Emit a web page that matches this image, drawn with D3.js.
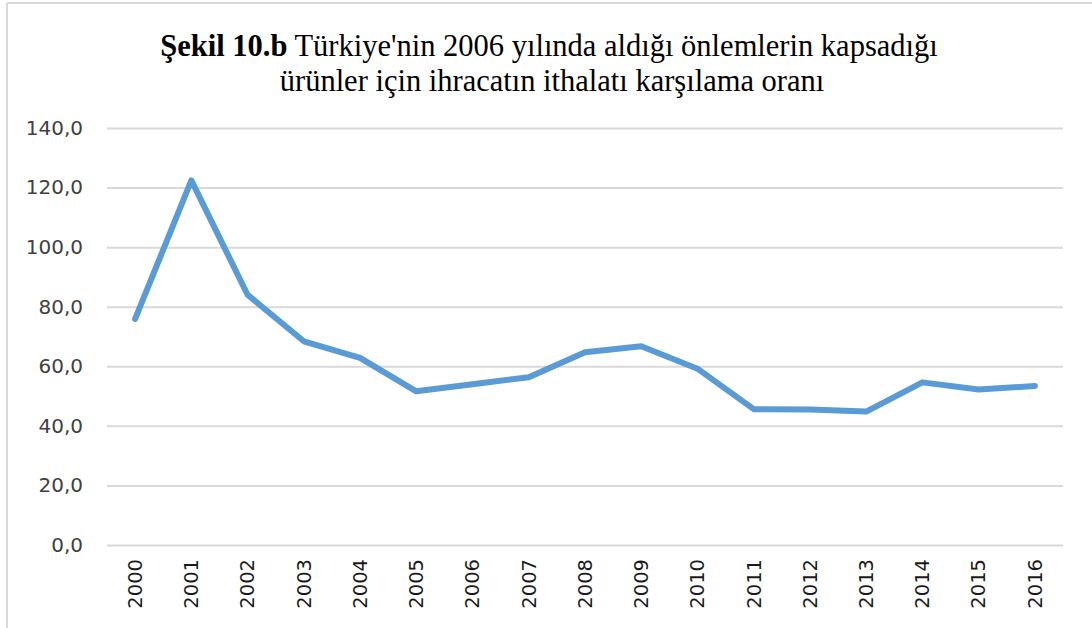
<!DOCTYPE html>
<html><head><meta charset="utf-8">
<script src="https://cdn.jsdelivr.net/npm/d3@7"></script>
<style>html,body{margin:0;padding:0;background:#fff;}svg{display:block;}</style>
</head><body>
<svg id="c" width="1092" height="628"></svg>
<script>
const years = ["2000","2001","2002","2003","2004","2005","2006","2007","2008","2009","2010","2011","2012","2013","2014","2015","2016"];
const ratio = [75.9,122.4,84.0,68.4,62.8,51.6,54.0,56.3,64.7,66.7,59.2,45.6,45.5,44.8,54.6,52.2,53.4];
const yTicks = [0,20,40,60,80,100,120,140];
const titleBold = "Şekil 10.b";
const titleRest = " Türkiye'nin 2006 yılında aldığı önlemlerin kapsadığı";
const titleLine2 = "ürünler için ihracatın ithalatı karşılama oranı";

const svg = d3.select("#c");
const W = 1092, H = 628;
const m = {left:107, right:1063, top:128, bottom:545};

// frame
svg.append("line").attr("x1",7).attr("x2",W).attr("y1",3).attr("y2",3).attr("stroke","#d9d9d9").attr("stroke-width",2);
svg.append("line").attr("x1",7).attr("x2",7).attr("y1",3).attr("y2",H).attr("stroke","#d9d9d9").attr("stroke-width",2);

const x = d3.scaleBand().domain(years).range([m.left, m.right]);
const y = d3.scaleLinear().domain([0,140]).range([m.bottom, m.top]);

// gridlines
const yAxis = d3.axisLeft(y).tickValues(yTicks).tickSize(-(m.right-m.left)).tickPadding(24)
  .tickFormat(d => d3.format(".1f")(d).replace(".", ","));
const gy = svg.append("g").attr("transform",`translate(${m.left},0)`).call(yAxis);
gy.select(".domain").remove();
gy.selectAll(".tick line").attr("stroke","#d9d9d9").attr("stroke-width",2);
gy.selectAll(".tick text").attr("font-family","DejaVu Sans, sans-serif").attr("font-size",20).attr("fill","#404040");

// x axis
const xAxis = d3.axisBottom(x).tickSize(0).tickPadding(0);
const gx = svg.append("g").attr("transform",`translate(0,${m.bottom})`).call(xAxis);
gx.select(".domain").remove();
gx.selectAll(".tick text")
  .attr("font-family","DejaVu Sans, sans-serif").attr("font-size",19.5).attr("fill","#1a1a1a")
  .attr("transform","rotate(-90)").attr("text-anchor","end")
  .attr("x",-14).attr("y",0).attr("dy","0.35em");

// line
const line = d3.line().x((d,i)=>x(years[i])+x.bandwidth()/2).y(d=>y(d));
svg.append("path").datum(ratio).attr("d",line).attr("fill","none")
  .attr("stroke","#5b9bd5").attr("stroke-width",6)
  .attr("stroke-linejoin","round").attr("stroke-linecap","round");

// title
const t1 = svg.append("text").attr("x",549).attr("y",56).attr("text-anchor","middle")
  .attr("font-family","Liberation Serif, Times New Roman, serif").attr("font-size",30.5).attr("fill","#000");
t1.append("tspan").attr("font-weight","bold").text(titleBold);
t1.append("tspan").text(titleRest);
const t2 = svg.append("text").attr("x",552).attr("y",91).attr("text-anchor","middle")
  .attr("font-family","Liberation Serif, Times New Roman, serif").attr("font-size",30.5).attr("fill","#000")
  .text(titleLine2);
</script>
</body></html>
